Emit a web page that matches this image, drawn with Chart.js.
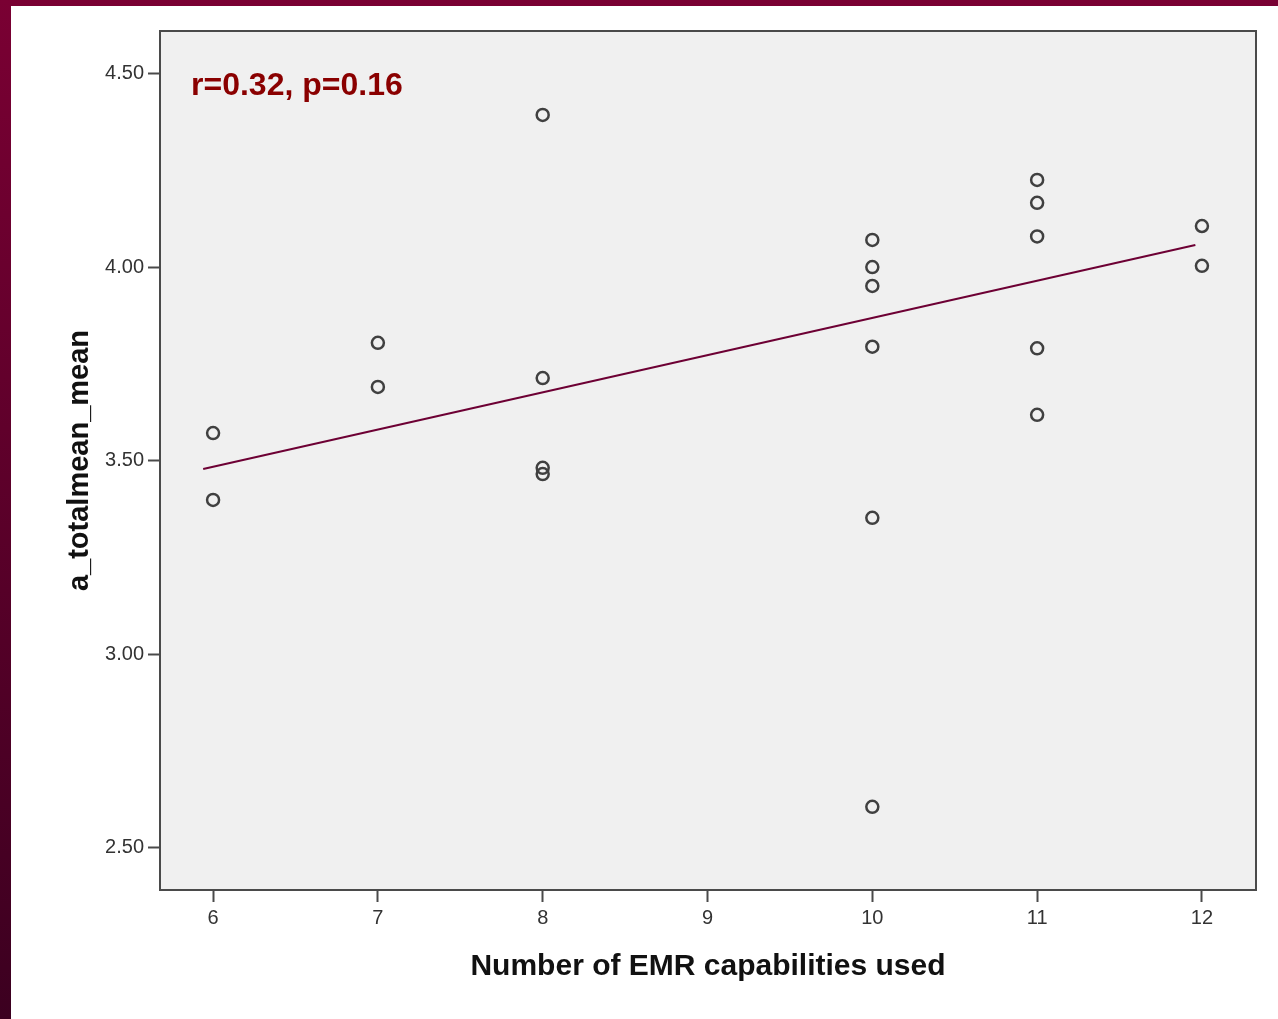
<!DOCTYPE html>
<html>
<head>
<meta charset="utf-8">
<script src="https://cdn.jsdelivr.net/npm/chart.js@4"></script>
<style>
  html, body { margin: 0; padding: 0; }
  body {
    width: 1278px; height: 1019px; overflow: hidden;
    background: linear-gradient(to bottom, #7a0033, #3c0020);
  }
  #box {
    position: absolute; left: 11px; top: 6px;
    width: 1267px; height: 1013px; background: #fff;
  }
</style>
</head>
<body>
<div id="box"><canvas id="myChart" width="1267" height="1013"></canvas></div>
<script>
// points: EMR capabilities used vs a_totalmean_mean
const capabilities = [6, 6, 7, 7, 8, 8, 8, 8, 10, 10, 10, 10, 10, 10, 11, 11, 11, 11, 11, 12, 12];
const totalMean = [3.572, 3.399, 3.805, 3.691, 4.394, 3.714, 3.482, 3.466,
  4.071, 4.001, 3.952, 3.795, 3.353, 2.606, 4.226, 4.167, 4.080, 3.791, 3.619, 4.107, 4.004];
// fit line end points
const fitX = [5.94, 11.96];
const fitY = [3.479, 4.058];
const xTicks = [6, 7, 8, 9, 10, 11, 12];
const yTicks = [2.5, 3.0, 3.5, 4.0, 4.5];
const statsLabel = 'r=0.32, p=0.16';

const ctx = document.getElementById('myChart');

const plotFrame = {
  id: 'plotFrame',
  beforeDatasetsDraw(chart) {
    const {ctx, chartArea: a} = chart;
    ctx.save();
    ctx.fillStyle = '#f0f0f0';
    ctx.fillRect(a.left, a.top, a.right - a.left, a.bottom - a.top);
    ctx.restore();
  },
  afterDraw(chart) {
    const {ctx, chartArea: a} = chart;
    ctx.save();
    ctx.strokeStyle = '#4a4a4a';
    ctx.lineWidth = 2;
    ctx.strokeRect(a.left, a.top, a.right - a.left, a.bottom - a.top);
    ctx.fillStyle = '#8a0000';
    ctx.font = 'bold 32px "Liberation Sans", Arial, sans-serif';
    ctx.textBaseline = 'alphabetic';
    ctx.fillText(statsLabel, a.left + 31, a.top + 64);
    ctx.restore();
  }
};

const data = {
  datasets: [
    {
      type: 'scatter',
      data: capabilities.map((x, i) => ({x: x, y: totalMean[i]})),
      pointRadius: 6,
      pointBorderWidth: 2.5,
      borderColor: '#404040',
      backgroundColor: 'rgba(0,0,0,0)',
      order: 1
    },
    {
      type: 'line',
      data: fitX.map((x, i) => ({x: x, y: fitY[i]})),
      borderColor: '#6d0034',
      borderWidth: 2,
      pointRadius: 0,
      fill: false,
      order: 2
    }
  ]
};

const tickFont = {family: '"Liberation Sans", Arial, sans-serif', size: 20};
const titleFont = {family: '"Liberation Sans", Arial, sans-serif', size: 29, weight: 'bold'};

const config = {
  data: data,
  options: {
    responsive: false,
    animation: false,
    plugins: {legend: {display: false}, tooltip: {enabled: false}},
    layout: {padding: {left: 0, top: 25, right: 22, bottom: 0}},
    scales: {
      x: {
        type: 'linear',
        min: 5.678, max: 12.328,
        afterBuildTicks: (axis) => { axis.ticks = xTicks.map(v => ({value: v})); },
        afterFit: (axis) => { axis.height = 129; },
        ticks: {color: '#333', font: tickFont, padding: 4},
        grid: {display: true, drawOnChartArea: false, tickLength: 12, tickWidth: 2, color: '#4a4a4a'},
        border: {display: false},
        title: {display: true, text: 'Number of EMR capabilities used', color: '#111',
          font: {family: '"Liberation Sans", Arial, sans-serif', size: 30, weight: 'bold'},
          padding: {top: 0, bottom: 34}}
      },
      y: {
        type: 'linear',
        min: 2.391, max: 4.611,
        afterBuildTicks: (axis) => { axis.ticks = yTicks.map(v => ({value: v})); },
        afterFit: (axis) => { axis.width = 149; },
        ticks: {color: '#333', font: tickFont, padding: 4,
          callback: (v) => Number(v).toFixed(2)},
        grid: {display: true, drawOnChartArea: false, tickLength: 12, tickWidth: 2, color: '#4a4a4a'},
        border: {display: false},
        title: {display: true, text: 'a_totalmean_mean', color: '#111',
          font: titleFont, padding: {top: 52, bottom: 0}}
      }
    }
  },
  plugins: [plotFrame]
};
const chart = new Chart(ctx, config);
</script>
</body>
</html>
